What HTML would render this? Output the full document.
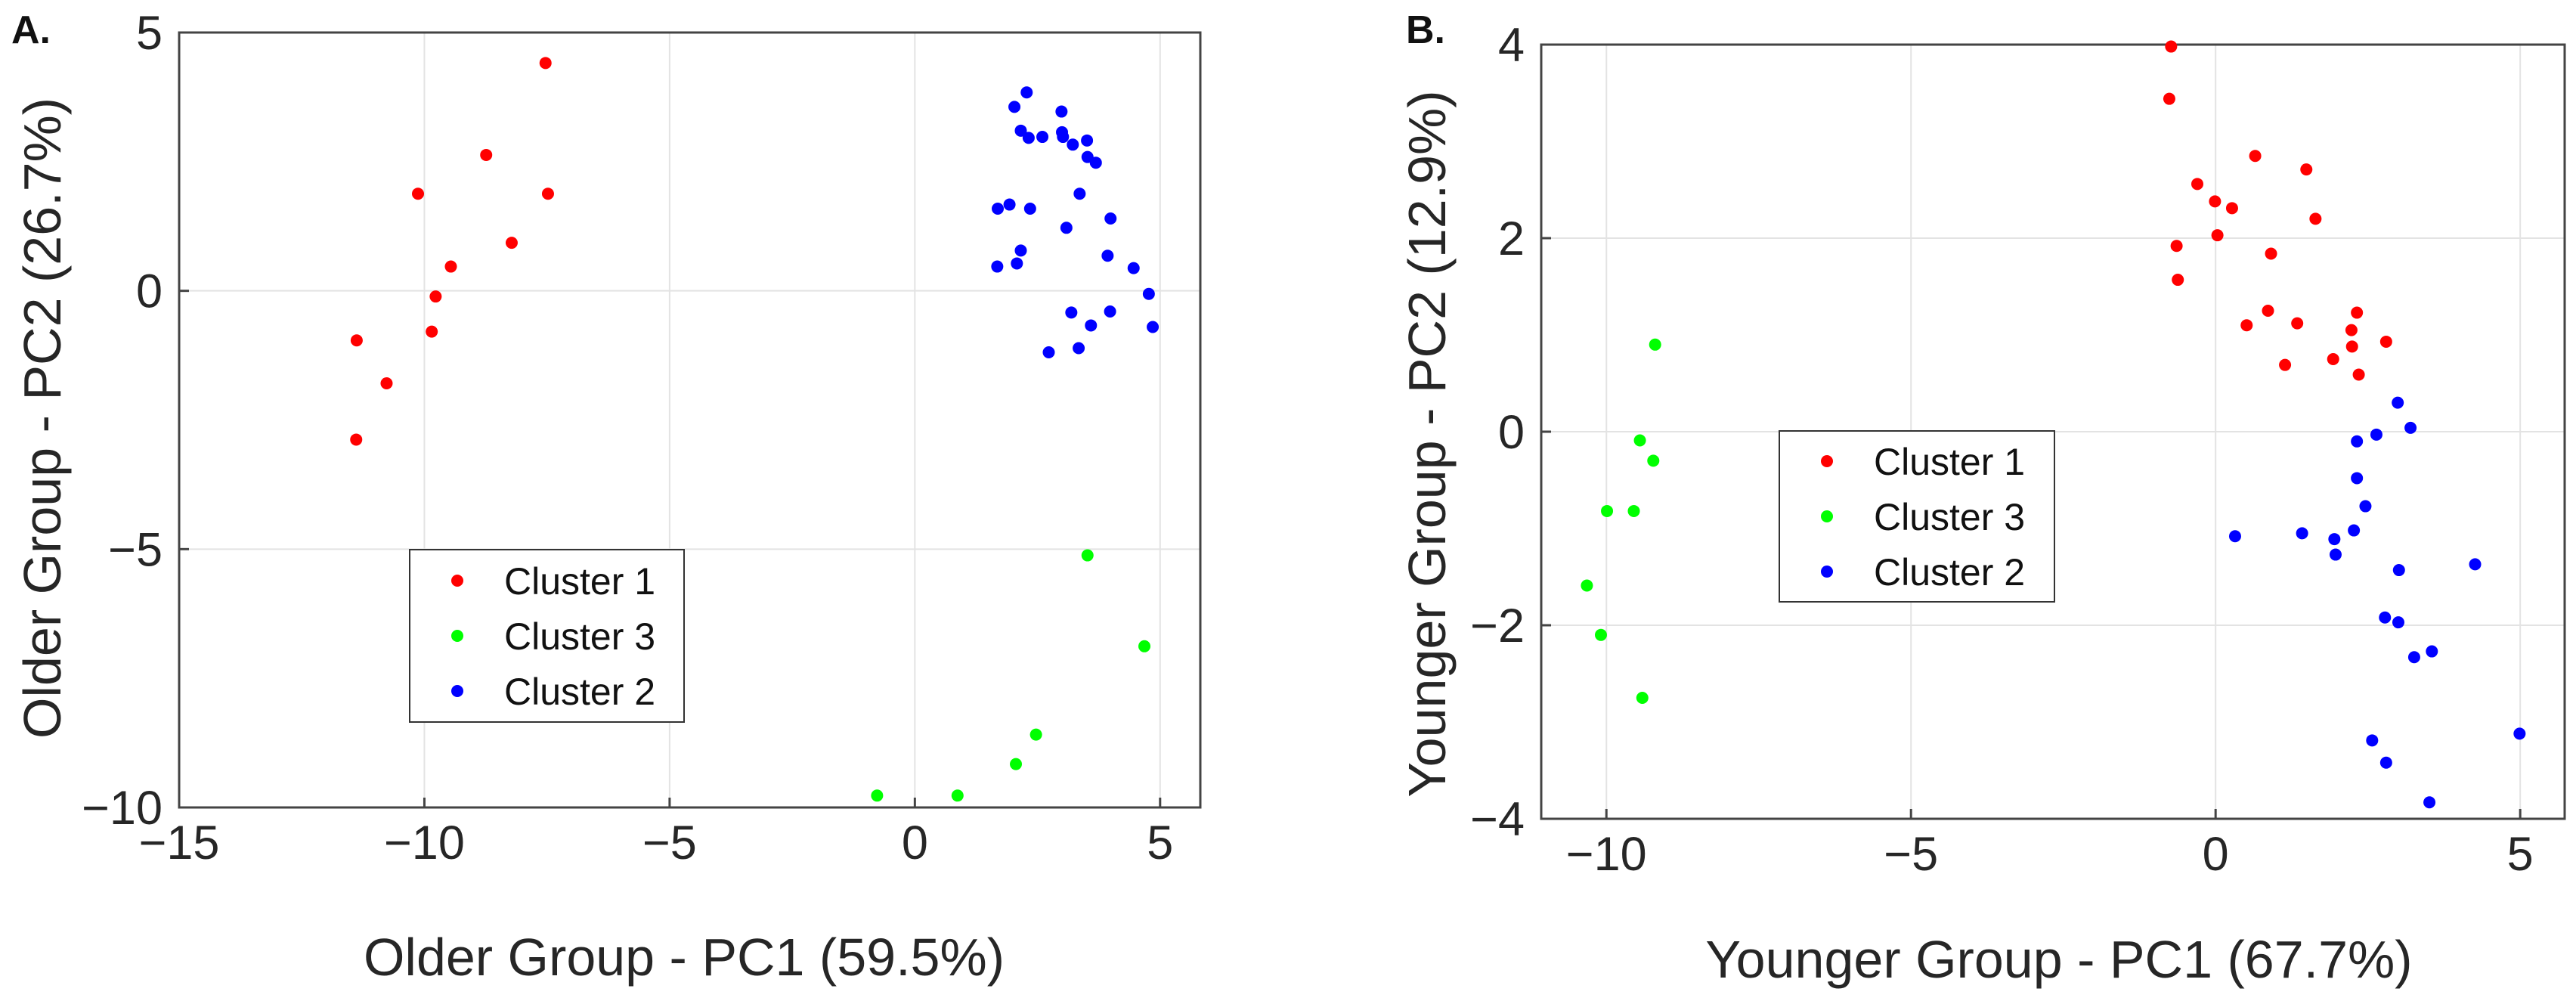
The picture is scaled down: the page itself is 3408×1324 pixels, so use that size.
<!DOCTYPE html>
<html><head><meta charset="utf-8"><style>
html,body{margin:0;padding:0;background:#fff;}
svg{display:block;font-family:"Liberation Sans",Arial,sans-serif;}
</style></head><body>
<svg id="fig" width="3408" height="1324" viewBox="0 0 3408 1324" xmlns="http://www.w3.org/2000/svg"></svg>
<script>
// Panel A data (Older group)
const aXTicks = [-15, -10, -5, 0, 5];
const aYTicks = [-10, -5, 0, 5];
const aC1x = [-7.53,-8.74,-10.13,-7.48,-8.22,-9.46,-9.77,-9.85,-11.38,-10.77,-11.39];
const aC1y = [4.41,2.63,1.88,1.88,0.93,0.47,-0.11,-0.79,-0.96,-1.79,-2.88];
const aC3x = [3.52,4.68,2.47,2.06,-0.77,0.87];
const aC3y = [-5.12,-6.88,-8.59,-9.16,-9.77,-9.77];
const aC2x = [2.28,2.03,2.99,2.16,2.32,2.60,3.00,3.02,3.22,3.51,3.52,3.69,3.36,1.69,1.93,2.35,3.99,3.09,2.16,3.93,1.68,2.08,4.46,4.77,3.19,3.98,3.59,4.85,2.73,3.34];
const aC2y = [3.84,3.56,3.47,3.10,2.96,2.98,3.07,2.98,2.83,2.91,2.59,2.48,1.88,1.59,1.67,1.59,1.40,1.22,0.78,0.68,0.47,0.53,0.44,-0.06,-0.42,-0.40,-0.67,-0.70,-1.19,-1.11];
// Panel B data (Younger group)
const bXTicks = [-10, -5, 0, 5];
const bYTicks = [-4, -2, 0, 2, 4];
const bC1x = [-0.73,-0.76,0.65,1.49,-0.30,-0.01,0.27,1.64,0.03,-0.64,0.91,-0.62,0.86,2.32,0.51,1.34,2.23,2.24,2.80,1.14,1.93,2.35];
const bC1y = [3.98,3.44,2.85,2.71,2.56,2.38,2.31,2.20,2.03,1.92,1.84,1.57,1.25,1.23,1.10,1.12,1.05,0.88,0.93,0.69,0.75,0.59];
const bC3x = [-9.20,-9.45,-9.23,-9.99,-9.55,-10.32,-10.09,-9.41];
const bC3y = [0.90,-0.09,-0.30,-0.82,-0.82,-1.59,-2.10,-2.75];
const bC2x = [2.99,3.20,2.32,2.64,2.32,2.46,0.32,1.42,2.27,1.95,1.97,3.01,4.26,2.78,3.00,3.26,3.55,2.57,2.80,3.51,4.99];
const bC2y = [0.30,0.04,-0.10,-0.03,-0.48,-0.77,-1.08,-1.05,-1.02,-1.11,-1.27,-1.43,-1.37,-1.92,-1.97,-2.33,-2.27,-3.19,-3.42,-3.83,-3.12];

const NS = "http://www.w3.org/2000/svg";
const svg = document.getElementById('fig');
function mk(tag, attrs, parent, text){
  const e = document.createElementNS(NS, tag);
  for (const k in attrs) e.setAttribute(k, attrs[k]);
  if (text !== undefined) e.textContent = text;
  (parent||svg).appendChild(e);
  return e;
}
function panel(cfg){
  const g = mk('g', {});
  
  
  const sx = v => cfg.L + (v - cfg.xmin) / (cfg.xmax - cfg.xmin) * (cfg.R - cfg.L);
  const sy = v => cfg.B - (v - cfg.ymin) / (cfg.ymax - cfg.ymin) * (cfg.B - cfg.T);
  cfg.xt.forEach(t => {
    const l = mk('line', {x1:sx(t), x2:sx(t), y1:cfg.T, y2:cfg.B, stroke:'#e3e3e3', 'stroke-width':2}, g);
    
    
    mk('line', {x1:sx(t), x2:sx(t), y1:cfg.B, y2:cfg.B-13, stroke:'#444', 'stroke-width':3}, g);
    const tx = mk('text', {x:sx(t), y:cfg.B+68, 'font-size':63, 'text-anchor':'middle', fill:'#262626'}, g, String(t).replace('-', '\u2212'));
    
    
  });
  cfg.yt.forEach(t => {
    const l = mk('line', {x1:cfg.L, x2:cfg.R, y1:sy(t), y2:sy(t), stroke:'#e3e3e3', 'stroke-width':2}, g);
    
    
    mk('line', {x1:cfg.L, x2:cfg.L+13, y1:sy(t), y2:sy(t), stroke:'#444', 'stroke-width':3}, g);
    const tx = mk('text', {x:cfg.L-22, y:sy(t)+22, 'font-size':63, 'text-anchor':'end', fill:'#262626'}, g, String(t).replace('-', '\u2212'));
    
    
  });
  const box = mk('rect', {x:cfg.L, y:cfg.T, width:cfg.R-cfg.L, height:cfg.B-cfg.T, fill:'none', stroke:'#444', 'stroke-width':3}, g);
  
  
  cfg.series.forEach(s => {
    s.xs.forEach((x, i) => {
      const c = mk('circle', {cx:sx(x), cy:sy(s.ys[i]), r:8, fill:s.color}, g);
      
      
    });
  });
  const xt = mk('text', {x:cfg.xtx, y:cfg.xty, 'font-size':70, 'text-anchor':'middle', fill:'#262626'}, g, cfg.xtitle);
  
  
  const yt = mk('text', {x:0, y:0, 'font-size':70, 'text-anchor':'middle', fill:'#262626', transform:'translate('+cfg.ytx+','+cfg.yty+') rotate(-90)'}, g, cfg.ytitle);
  
  
  const pl = mk('text', {x:cfg.lblx, y:57, 'font-size':52, 'font-weight':'bold', fill:'#111'}, g, cfg.label);
  
  
  const lg = mk('g', {}, g);
  
  
  mk('rect', {x:cfg.lg[0], y:cfg.lg[1], width:cfg.lg[2], height:cfg.lg[3], fill:'#fff', stroke:'#333', 'stroke-width':2}, lg);
  cfg.series.forEach((s, i) => {
    const yy = cfg.lg[1] + cfg.lgFirst + i*cfg.lgStep;
    const m = mk('circle', {cx:cfg.lg[0]+63, cy:yy, r:8, fill:s.color}, lg);
    
    
    const t = mk('text', {x:cfg.lg[0]+125, y:yy+18, 'font-size':50, fill:'#111'}, lg, s.label);
    
    
  });
}
panel({id:'older', L:237, R:1588, T:43, B:1068, xmin:-15, xmax:5.82, ymin:-10, ymax:5,
  xt:aXTicks, yt:aYTicks, label:'A.', lblx:15,
  xtitle:'Older Group - PC1 (59.5%)', xtx:905, xty:1290,
  ytitle:'Older Group - PC2 (26.7%)', ytx:80, yty:553,
  lg:[542,727,363,228], lgFirst:41, lgStep:73,
  series:[{name:'cluster-1',label:'Cluster 1',color:'#ff0000',xs:aC1x,ys:aC1y},
          {name:'cluster-3',label:'Cluster 3',color:'#00ff00',xs:aC3x,ys:aC3y},
          {name:'cluster-2',label:'Cluster 2',color:'#0000ff',xs:aC2x,ys:aC2y}]});
panel({id:'younger', L:2039, R:3393, T:59, B:1083, xmin:-11.07, xmax:5.73, ymin:-4, ymax:4,
  xt:bXTicks, yt:bYTicks, label:'B.', lblx:1860,
  xtitle:'Younger Group - PC1 (67.7%)', xtx:2724, xty:1293,
  ytitle:'Younger Group - PC2 (12.9%)', ytx:1912, yty:587,
  lg:[2354,570,364,226], lgFirst:40, lgStep:73,
  series:[{name:'cluster-1',label:'Cluster 1',color:'#ff0000',xs:bC1x,ys:bC1y},
          {name:'cluster-3',label:'Cluster 3',color:'#00ff00',xs:bC3x,ys:bC3y},
          {name:'cluster-2',label:'Cluster 2',color:'#0000ff',xs:bC2x,ys:bC2y}]});
</script>
</body></html>
